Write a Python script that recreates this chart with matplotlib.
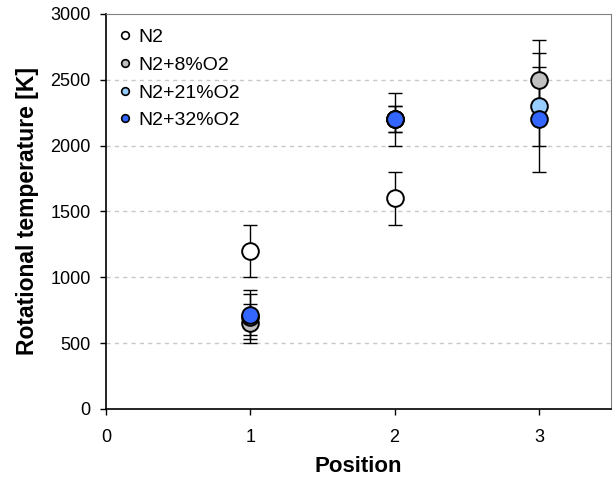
import matplotlib.pyplot as plt
import numpy as np

plt.rcParams['font.family'] = ['Liberation Sans', 'DejaVu Sans']

labels = ['N2', 'N2+8%O2', 'N2+21%O2', 'N2+32%O2']
colors = ['white', '#c0c0c0', '#99ccff', '#3366ff']

# positions, values, lower error, upper error per series
pos_n2 = [1, 2]
val_n2 = [1200, 1600]
lo_n2 = [200, 200]
hi_n2 = [200, 200]

pos_o8 = [1, 2, 3]
val_o8 = [650, 2200, 2500]
lo_o8 = [150, 200, 300]
hi_o8 = [150, 200, 300]

pos_o21 = [1, 2, 3]
val_o21 = [700, 2200, 2300]
lo_o21 = [170, 100, 300]
hi_o21 = [200, 100, 400]

pos_o32 = [1, 2, 3]
val_o32 = [710, 2200, 2200]
lo_o32 = [150, 100, 400]
hi_o32 = [160, 100, 400]

series = [(pos_n2, val_n2, lo_n2, hi_n2),
          (pos_o8, val_o8, lo_o8, hi_o8),
          (pos_o21, val_o21, lo_o21, hi_o21),
          (pos_o32, val_o32, lo_o32, hi_o32)]

fig = plt.figure(figsize=(6.16, 4.8), dpi=100)
ax = fig.add_axes([0.172, 0.148, 0.820, 0.823])

for p, v, lo, hi in series:
    ax.errorbar(p, v, yerr=[lo, hi], fmt='none', ecolor='black',
                elinewidth=1, capsize=5, capthick=1, zorder=2)

for (p, v, lo, hi), c, lab in zip(series, colors, labels):
    ax.plot(p, v, 'o', ms=12, mfc=c, mec='black', mew=1.4, ls='none', zorder=3)
    ax.plot([], [], 'o', ms=5.5, mfc=c, mec='black', mew=1.2, ls='none', label=lab)

ax.set_xlim(0, 3.5)
ax.set_ylim(0, 3000)
ax.set_xticks([0, 1, 2, 3])
ax.set_yticks(np.arange(0, 3001, 500))
ax.tick_params(direction='out', length=4, labelsize=13, width=1)
ax.tick_params(axis='x', pad=10.5)
ax.tick_params(axis='y', pad=7)
for y in [500, 1000, 1500, 2000, 2500]:
    ax.axhline(y, color='#c8c8c8', ls=(0, (3, 3)), lw=1, zorder=0)

ax.set_xlabel('Position', fontsize=16, fontweight='bold', labelpad=7)
ax.set_ylabel('Rotational temperature [K]', fontsize=16.5, fontweight='bold', labelpad=8)
ax.spines['left'].set_linewidth(1.2)
ax.spines['bottom'].set_linewidth(1.2)
ax.spines['top'].set_color('#808080')
ax.spines['right'].set_color('#808080')

ax.legend(loc='upper left', frameon=False, fontsize=14, handletextpad=0.2,
          labelspacing=0.52, borderaxespad=0.35, handlelength=1.0,
          bbox_to_anchor=(-0.01, 1.0))

plt.savefig('out.png', dpi=100)
